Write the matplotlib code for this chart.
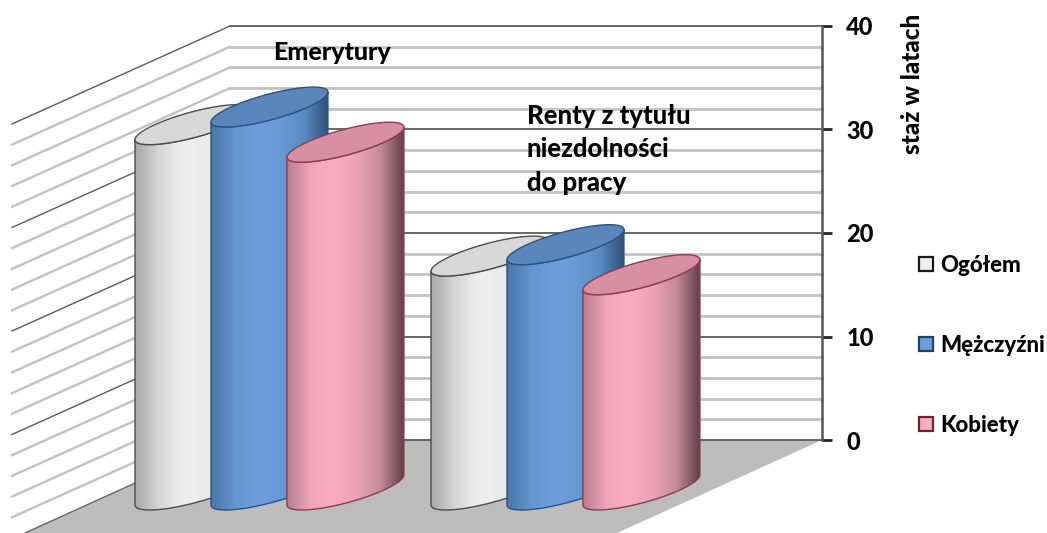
import numpy as np
import matplotlib
matplotlib.use("Agg")
import matplotlib.pyplot as plt
from matplotlib.colors import LinearSegmentedColormap
from matplotlib.patches import Polygon, Rectangle

plt.rcParams['font.family'] = ['Lato', 'DejaVu Sans']
plt.rcParams['font.weight'] = 900

series = ["Ogółem", "Mężczyźni", "Kobiety"]
emerytury = [35.3, 37.0, 33.6]
renty = [22.6, 23.7, 20.8]
y_ticks = [0, 10, 20, 30, 40]

body_colors = [
    ["#a8a8a8", "#d6d6d6", "#eeeeee", "#ebebeb", "#e6e6e6", "#c4c4c4"],
    ["#4a76a8", "#6595d0", "#6d9edb", "#6a9ad6", "#5c8bc2", "#2f5178"],
    ["#b87f90", "#f0a5ba", "#f9abc1", "#eda2b7", "#c58a9b", "#63404a"],
]
top_colors = ["#d8d8d8", "#5a86bc", "#d88ea3"]
edge_colors = ["#4d4d4d", "#2c5282", "#8a3d52"]
legend_colors = ["#f0f0f0", "#6d9edb", "#f9abc1"]
legend_edges = ["#1a1a1a", "#1f3f66", "#6b2530"]

fig = plt.figure(figsize=(10.47, 5.33), dpi=100)
W, H = 1047.0, 533.0
ax = fig.add_axes([230 / W, (H - 440) / H, 592 / W, 414 / H])
ax.patch.set_alpha(0)
px = 414 / 40.0  # pixels per year

# depth of the box, in pixels and in axis units
dep_x, dep_y = -218.0, -98.0 / px


def wall():
    ax.add_patch(Polygon([(230, 0), (822, 0), (822 - 205, -93 / px), (230 - 205, -93 / px)],
                         closed=True, fc="#bdbdbd", ec="none", clip_on=False, zorder=1))
    for v in np.arange(0, 41, 2):
        major = v % 10 == 0
        col = "#5a5a5a" if major else "#c2c2c2"
        lw = 1.3 if major else 2.0
        ax.plot([230, 822], [v, v], color=col, lw=lw, clip_on=False, zorder=2)
        if v > 0:
            ax.plot([230, 230 + dep_x], [v, v + dep_y], color=col, lw=lw - 0.3, clip_on=False, zorder=2)
    ax.plot([230, 230 - 205], [0, -93 / px], color="#666666", lw=1.0, clip_on=False, zorder=2)


def cylinder(x0, val, i, z):
    # tilted ellipse: x = A cos t + B sin t, y = C sin t
    A, B, C = 38.5, 44.0, 20.0 / px
    R = np.hypot(A, B)
    cx = x0 + R
    base = -4.83
    phi = np.arctan2(B, A)
    t = np.linspace(phi + np.pi, phi + 2 * np.pi, 80)
    ex = cx + A * np.cos(t) + B * np.sin(t)
    ey = C * np.sin(t)
    xy = np.r_[np.c_[ex, base + ey], np.c_[ex[::-1], base + val + ey[::-1]]]
    body = Polygon(xy, closed=True, fc="none", ec=edge_colors[i], lw=1.0, clip_on=False, zorder=z + 0.2)
    ax.add_patch(body)
    cmap = LinearSegmentedColormap.from_list("c%d" % i, body_colors[i])
    im = ax.imshow(np.linspace(0, 1, 128).reshape(1, -1), cmap=cmap, aspect="auto",
                   extent=[x0, x0 + 2 * R, base - C, base + val + C], zorder=z, interpolation="bilinear")
    im.set_clip_box(fig.bbox)
    im.set_clip_path(body)
    t2 = np.linspace(0, 2 * np.pi, 160)
    ax.add_patch(Polygon(np.c_[cx + A * np.cos(t2) + B * np.sin(t2), base + val + C * np.sin(t2)],
                         closed=True, fc=top_colors[i], ec=edge_colors[i], lw=1.0, clip_on=False, zorder=z + 0.4))


wall()
for start, vals, z0 in [(135, emerytury, 3), (431, renty, 7)]:
    for i, v in enumerate(vals):
        cylinder(start + 76 * i, v, i, z0 + i)

ax.set_xlim(230, 822)
ax.set_ylim(0, 40)
for s in ["left", "top", "bottom"]:
    ax.spines[s].set_visible(False)
ax.spines["right"].set_color("#555555")
ax.spines["right"].set_linewidth(1.8)
ax.set_xticks([])
ax.yaxis.tick_right()
ax.set_yticks(y_ticks)
ax.tick_params(axis="y", length=7, width=2, color="#222222", labelsize=17, pad=10.5, labelcolor="black")
for lab in ax.get_yticklabels():
    lab.set_fontweight(900)

fig.text(273 / W, 1 - 53 / H, "Emerytury", fontsize=18, va="center", ha="left", color="black", zorder=20)
for txt, yy in [("Renty z tytułu", 116), ("niezdolności", 149), ("do pracy", 183)]:
    fig.text(527 / W, 1 - yy / H, txt, fontsize=18.5, va="center", ha="left", color="black", zorder=20)
fig.text(913 / W, 1 - 84 / H, "staż w latach", fontsize=17.5, rotation=90, va="center", ha="center")

for name, yy, fc, ec in zip(series, [264, 344, 424], legend_colors, legend_edges):
    fig.add_artist(Rectangle((919 / W, 1 - (yy + 7) / H), 14 / W, 14 / H, transform=fig.transFigure,
                             fc=fc, ec=ec, lw=1.6))
    fig.text(940 / W, 1 - (yy + 1) / H, name, fontsize=16, va="center", ha="left")

fig.savefig("out.png", dpi=100)
